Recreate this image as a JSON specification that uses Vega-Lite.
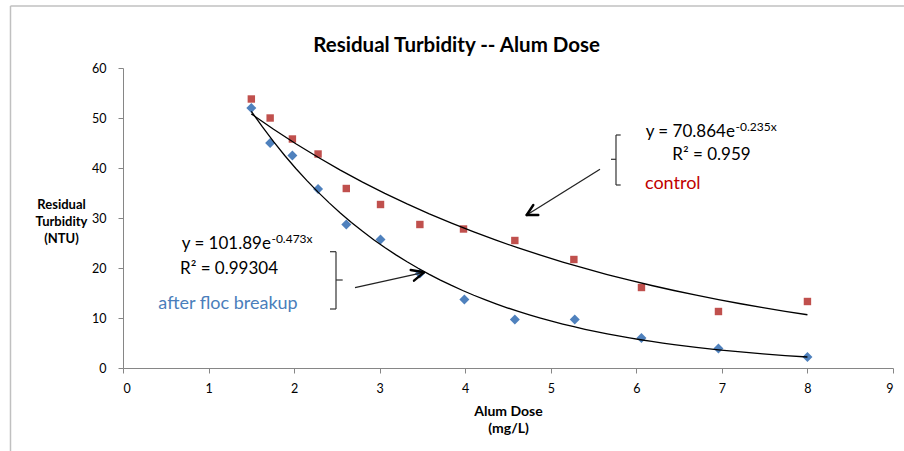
{
  "$schema": "https://vega.github.io/schema/vega-lite/v6.json",
  "width": 770,
  "height": 300,
  "autosize": {"type": "none"},
  "padding": {"left": 123, "top": 68, "right": 11, "bottom": 83},
  "background": "white",
  "config": {
    "view": {"stroke": null},
    "font": "Lato",
    "axis": {"domainColor": "#868686", "tickColor": "#868686", "grid": false, "labelFont": "Lato", "labelFontSize": 12.5, "labelColor": "#000000", "titleFont": "Lato", "titleColor": "#000000", "tickSize": 5, "domainWidth": 1, "tickWidth": 1}
  },
  "datasets": {
    "pts": [
      {"series": "after floc breakup", "dose": 1.5, "turb": 52.0},
      {"series": "after floc breakup", "dose": 1.72, "turb": 45.0},
      {"series": "after floc breakup", "dose": 1.98, "turb": 42.5},
      {"series": "after floc breakup", "dose": 2.28, "turb": 35.8},
      {"series": "after floc breakup", "dose": 2.61, "turb": 28.7},
      {"series": "after floc breakup", "dose": 3.01, "turb": 25.7},
      {"series": "after floc breakup", "dose": 3.47, "turb": 18.9},
      {"series": "after floc breakup", "dose": 3.99, "turb": 13.7},
      {"series": "after floc breakup", "dose": 4.58, "turb": 9.7},
      {"series": "after floc breakup", "dose": 5.28, "turb": 9.7},
      {"series": "after floc breakup", "dose": 6.06, "turb": 6.0},
      {"series": "after floc breakup", "dose": 6.96, "turb": 3.9},
      {"series": "after floc breakup", "dose": 8.0, "turb": 2.2},
      {"series": "control", "dose": 1.5, "turb": 53.8},
      {"series": "control", "dose": 1.72, "turb": 50.0},
      {"series": "control", "dose": 1.98, "turb": 45.8},
      {"series": "control", "dose": 2.28, "turb": 42.8},
      {"series": "control", "dose": 2.61, "turb": 35.9},
      {"series": "control", "dose": 3.01, "turb": 32.7},
      {"series": "control", "dose": 3.47, "turb": 28.7},
      {"series": "control", "dose": 3.98, "turb": 27.8},
      {"series": "control", "dose": 4.58, "turb": 25.5},
      {"series": "control", "dose": 5.27, "turb": 21.7},
      {"series": "control", "dose": 6.06, "turb": 16.1},
      {"series": "control", "dose": 6.96, "turb": 11.3},
      {"series": "control", "dose": 8.0, "turb": 13.3}
    ],
    "notes": [
      {"role": "title", "x": 3.9, "y": 63.26, "text": "Residual Turbidity -- Alum Dose"},
      {"role": "eq", "x": 6.109, "y": 46.26, "text": "y = 70.864e"},
      {"role": "sup", "x": 7.16, "y": 47.46, "text": "-0.235x"},
      {"role": "eq", "x": 6.42, "y": 41.6, "text": "R² = 0.959"},
      {"role": "ctl", "x": 6.101, "y": 35.74, "text": "control"},
      {"role": "eq", "x": 0.686, "y": 23.8, "text": "y = 101.89e"},
      {"role": "sup", "x": 1.735, "y": 24.94, "text": "-0.473x"},
      {"role": "eq", "x": 0.666, "y": 18.8, "text": "R² = 0.99304"},
      {"role": "afb", "x": 0.413, "y": 11.8, "text": "after floc breakup"}
    ],
    "segs": [
      {"role": "brace", "x": 5.7623, "y": 46.6, "x2": 5.7623, "y2": 36.6},
      {"role": "brace", "x": 5.7623, "y": 46.6, "x2": 5.8172, "y2": 46.6},
      {"role": "brace", "x": 5.7623, "y": 36.6, "x2": 5.8172, "y2": 36.6},
      {"role": "brace", "x": 5.7039, "y": 41.74, "x2": 5.7623, "y2": 41.74},
      {"role": "shaft", "x": 5.5753, "y": 39.74, "x2": 4.7186, "y2": 30.6},
      {"role": "head", "x": 4.7186, "y": 30.6, "x2": 4.7958, "y2": 32.6},
      {"role": "head", "x": 4.7186, "y": 30.6, "x2": 4.8543, "y2": 30.6},
      {"role": "brace", "x": 2.4896, "y": 23.26, "x2": 2.4896, "y2": 11.8},
      {"role": "brace", "x": 2.4195, "y": 23.26, "x2": 2.4896, "y2": 23.26},
      {"role": "brace", "x": 2.4195, "y": 11.8, "x2": 2.4896, "y2": 11.8},
      {"role": "brace", "x": 2.4896, "y": 17.6, "x2": 2.5679, "y2": 17.6},
      {"role": "shaft", "x": 2.7117, "y": 16.06, "x2": 3.5182, "y2": 19.14},
      {"role": "head", "x": 3.5182, "y": 19.14, "x2": 3.3627, "y2": 19.6},
      {"role": "head", "x": 3.5182, "y": 19.14, "x2": 3.4013, "y2": 17.46},
      {"role": "frame", "x": -1.315, "y": 72.4, "x2": 9.128, "y2": 72.4},
      {"role": "frame", "x": -1.315, "y": 72.4, "x2": -1.315, "y2": -16.6}
    ]
  },
  "layer": [
    {
      "data": {"name": "segs"},
      "transform": [{"filter": "datum.role === 'frame'"}],
      "mark": {"type": "rule", "color": "#c0c0c0", "strokeWidth": 1.5},
      "encoding": {
        "x": {"field": "x", "type": "quantitative", "scale": {"domain": [0, 9], "nice": false}},
        "y": {"field": "y", "type": "quantitative", "scale": {"domain": [0, 60], "nice": false}},
        "x2": {"field": "x2"},
        "y2": {"field": "y2"}
      }
    },
    {
      "data": {"name": "pts"},
      "mark": {"type": "point", "filled": true, "opacity": 1},
      "encoding": {
        "x": {"field": "dose", "type": "quantitative", "scale": {"domain": [0, 9], "nice": false},
          "axis": {"values": [0, 1, 2, 3, 4, 5, 6, 7, 8, 9], "format": "d", "labelPadding": 9, "title": ["Alum Dose", "(mg/L)"], "titleFontSize": 14, "titleFontWeight": "bold", "titleBaseline": "alphabetic", "titleY": 47, "titleLineHeight": 17}},
        "y": {"field": "turb", "type": "quantitative", "scale": {"domain": [0, 60], "nice": false},
          "axis": {"values": [0, 10, 20, 30, 40, 50, 60], "format": "d", "labelPadding": 12, "title": ["Residual", "Turbidity", "(NTU)"], "titleAngle": 0, "titleAlign": "center", "titleBaseline": "alphabetic", "titleX": -62, "titleY": 140, "titleFontSize": 13, "titleFontWeight": "bold", "titleLineHeight": 17}},
        "color": {"field": "series", "type": "nominal", "scale": {"domain": ["after floc breakup", "control"], "range": ["#4f81bd", "#c0504d"]}, "legend": null},
        "shape": {"field": "series", "type": "nominal", "scale": {"domain": ["after floc breakup", "control"], "range": ["diamond", "square"]}, "legend": null},
        "size": {"field": "series", "type": "nominal", "scale": {"domain": ["after floc breakup", "control"], "range": [100, 55]}, "legend": null}
      }
    },
    {
      "data": {"name": "pts"},
      "transform": [{"regression": "turb", "on": "dose", "method": "exp", "groupby": ["series"], "extent": [1.5, 8]}],
      "mark": {"type": "line", "color": "#000000", "strokeWidth": 1.3},
      "encoding": {
        "x": {"field": "dose", "type": "quantitative"},
        "y": {"field": "turb", "type": "quantitative"},
        "detail": {"field": "series"}
      }
    },
    {
      "data": {"name": "segs"},
      "transform": [{"filter": "datum.role === 'brace'"}],
      "mark": {"type": "rule", "color": "#333333", "strokeWidth": 1.2},
      "encoding": {
        "x": {"field": "x", "type": "quantitative"},
        "y": {"field": "y", "type": "quantitative"},
        "x2": {"field": "x2"},
        "y2": {"field": "y2"}
      }
    },
    {
      "data": {"name": "segs"},
      "transform": [{"filter": "datum.role === 'shaft'"}],
      "mark": {"type": "rule", "color": "#222222", "strokeWidth": 1.3},
      "encoding": {
        "x": {"field": "x", "type": "quantitative"},
        "y": {"field": "y", "type": "quantitative"},
        "x2": {"field": "x2"},
        "y2": {"field": "y2"}
      }
    },
    {
      "data": {"name": "segs"},
      "transform": [{"filter": "datum.role === 'head'"}],
      "mark": {"type": "rule", "color": "#000000", "strokeWidth": 2.4, "strokeCap": "round"},
      "encoding": {
        "x": {"field": "x", "type": "quantitative"},
        "y": {"field": "y", "type": "quantitative"},
        "x2": {"field": "x2"},
        "y2": {"field": "y2"}
      }
    },
    {
      "data": {"name": "notes"},
      "transform": [{"filter": "datum.role === 'title'"}],
      "mark": {"type": "text", "align": "center", "baseline": "alphabetic", "font": "Lato", "fontSize": 20.5, "fontWeight": "bold", "color": "#000000"},
      "encoding": {
        "x": {"field": "x", "type": "quantitative"},
        "y": {"field": "y", "type": "quantitative"},
        "text": {"field": "text"}
      }
    },
    {
      "data": {"name": "notes"},
      "transform": [{"filter": "datum.role === 'eq'"}],
      "mark": {"type": "text", "align": "left", "baseline": "alphabetic", "font": "Lato", "fontSize": 17, "color": "#000000"},
      "encoding": {
        "x": {"field": "x", "type": "quantitative"},
        "y": {"field": "y", "type": "quantitative"},
        "text": {"field": "text"}
      }
    },
    {
      "data": {"name": "notes"},
      "transform": [{"filter": "datum.role === 'sup'"}],
      "mark": {"type": "text", "align": "left", "baseline": "alphabetic", "font": "Lato", "fontSize": 12, "color": "#000000"},
      "encoding": {
        "x": {"field": "x", "type": "quantitative"},
        "y": {"field": "y", "type": "quantitative"},
        "text": {"field": "text"}
      }
    },
    {
      "data": {"name": "notes"},
      "transform": [{"filter": "datum.role === 'ctl'"}],
      "mark": {"type": "text", "align": "left", "baseline": "alphabetic", "font": "Lato", "fontSize": 18, "color": "#c00000"},
      "encoding": {
        "x": {"field": "x", "type": "quantitative"},
        "y": {"field": "y", "type": "quantitative"},
        "text": {"field": "text"}
      }
    },
    {
      "data": {"name": "notes"},
      "transform": [{"filter": "datum.role === 'afb'"}],
      "mark": {"type": "text", "align": "left", "baseline": "alphabetic", "font": "Lato", "fontSize": 18, "color": "#4a7ebb"},
      "encoding": {
        "x": {"field": "x", "type": "quantitative"},
        "y": {"field": "y", "type": "quantitative"},
        "text": {"field": "text"}
      }
    }
  ]
}
